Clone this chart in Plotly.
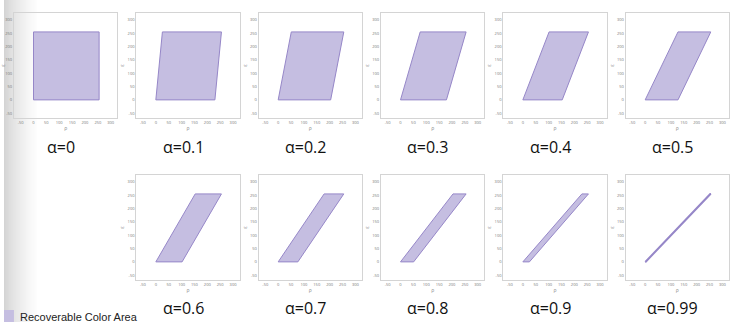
import plotly.graph_objects as go

W, H = 740, 322

# data
alpha_labels = ["α=0", "α=0.1", "α=0.2", "α=0.3", "α=0.4", "α=0.5",
                "α=0.6", "α=0.7", "α=0.8", "α=0.9", "α=0.99"]
bottom_right_x = [255, 229.5, 204, 178.5, 153, 127.5, 102, 76.5, 51, 25.5, 2.55]
top_left_x = [0, 25.5, 51, 76.5, 102, 127.5, 153, 178.5, 204, 229.5, 252.45]
max_val = 255
tick_vals = [-50, 0, 50, 100, 150, 200, 250, 300]
tick_text = ["-50", "0", "50", "100", "150", "200", "250", "300"]
legend_label = "Recoverable Color Area"

FILL = "rgba(197,190,225,1)"
EDGE = "rgb(150,135,200)"

# layout positions (pixels)
col_left = [10, 133, 256, 379, 502, 625]
pw = 104
rows = [(13, 118), (175, 280)]
positions = [(c, 0) for c in range(6)] + [(c, 1) for c in range(1, 6)]

fig = go.Figure()
shapes = []
annotations = []

# left gray gradient background
for i in range(34):
    g = int(212 + (255 - 212) * (i / 33) ** 0.8)
    shapes.append(dict(type="rect", xref="paper", yref="paper", layer="below",
                       x0=i / W, x1=(i + 1) / W, y0=0, y1=1,
                       fillcolor=f"rgb({g},{g},{g})", line_width=0))

for k, (c, r) in enumerate(positions):
    n = k + 1
    sfx = "" if n == 1 else str(n)
    x0p = col_left[c]
    top, bot = rows[r]
    xs = [0, bottom_right_x[k], max_val, top_left_x[k], 0]
    ys = [0, 0, max_val, max_val, 0]
    fig.add_trace(go.Scatter(x=xs, y=ys, fill="toself", fillcolor=FILL,
                             line=dict(color=EDGE, width=1 if k < 10 else 1.6),
                             mode="lines", showlegend=False, hoverinfo="skip",
                             xaxis="x" + sfx, yaxis="y" + sfx))
    common = dict(tickvals=tick_vals, ticktext=tick_text,
                  tickfont=dict(size=4, color="#777"), showgrid=False,
                  zeroline=False, showline=True, linecolor="#d4d4d4",
                  linewidth=1, mirror=True, ticks="", fixedrange=True)
    fig.layout["xaxis" + sfx] = dict(common, range=[-76, 326],
                                     domain=[x0p / W, (x0p + pw) / W],
                                     anchor="y" + sfx,
                                     title=dict(text="ρ", font=dict(size=5, color="#888"),
                                                standoff=2))
    fig.layout["yaxis" + sfx] = dict(common, range=[-68, 326],
                                     domain=[1 - bot / H, 1 - top / H],
                                     anchor="x" + sfx,
                                     title=dict(text="ε", font=dict(size=5, color="#888"),
                                                standoff=2))
    label_y = 147 if r == 0 else 308
    annotations.append(dict(text=alpha_labels[k], xref="paper", yref="paper",
                            x=(x0p + pw / 2 - 5) / W, y=1 - label_y / H,
                            xanchor="center", yanchor="middle", showarrow=False,
                            font=dict(size=16, color="#111", family="Open Sans")))

# legend swatch and text
shapes.append(dict(type="rect", xref="paper", yref="paper",
                   x0=0, x1=10 / W, y0=0, y1=1 - 310 / H,
                   fillcolor=FILL, line_width=0))
annotations.append(dict(text=legend_label, xref="paper", yref="paper",
                        x=14 / W, y=1 - 316.5 / H, xanchor="left", yanchor="middle",
                        showarrow=False,
                        font=dict(size=11, color="#222", family="Liberation Sans")))

fig.update_layout(width=W, height=H, margin=dict(l=0, r=0, t=0, b=0),
                  paper_bgcolor="white", plot_bgcolor="white",
                  shapes=shapes, annotations=annotations, showlegend=False)

fig.write_html("out.html", config={"displayModeBar": False})
